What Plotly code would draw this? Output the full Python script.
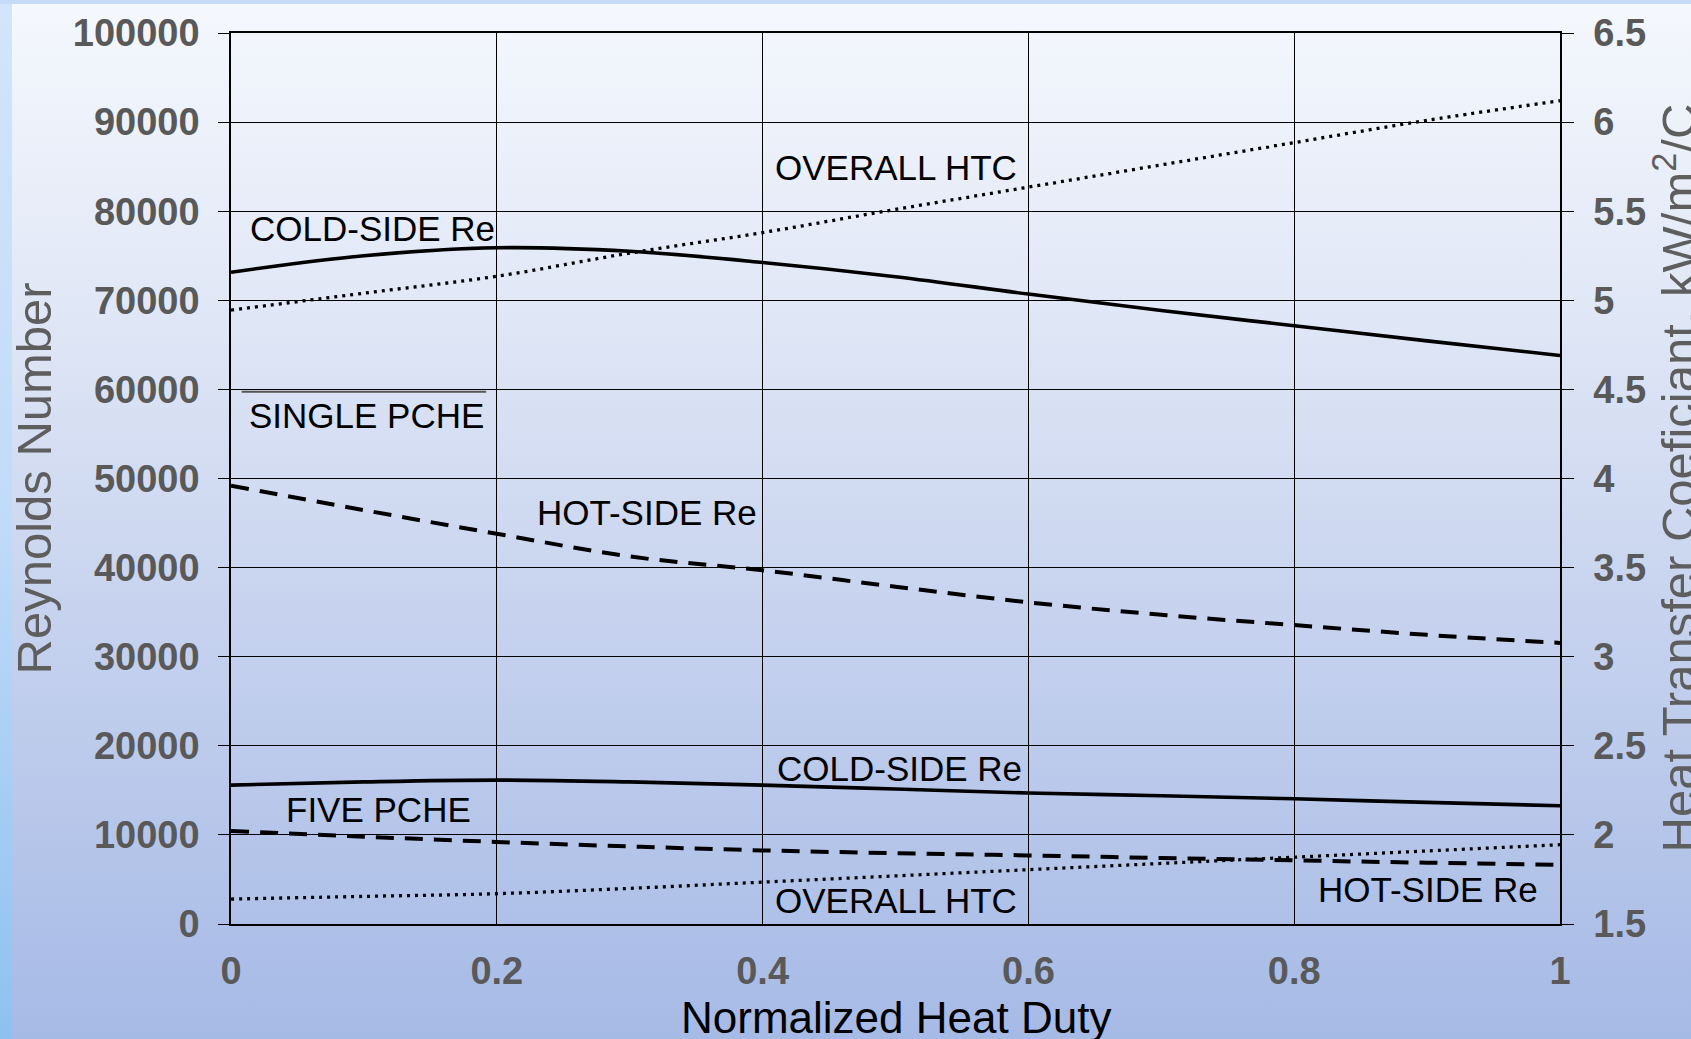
import base64
import plotly.graph_objects as go

# ---------------- data ----------------
heat_duty = [0.0, 0.1, 0.2, 0.3, 0.4, 0.5, 0.6, 0.7, 0.8, 0.9, 1.0]

single_cold_re = [73150, 75000, 75900, 75500, 74250, 72650, 70700, 68850, 67150, 65450, 63800]
single_hot_re = [49200, 46450, 43800, 41250, 39700, 37850, 36100, 34700, 33550, 32450, 31550]
single_htc = [4.945, 5.04, 5.135, 5.265, 5.38, 5.51, 5.635, 5.76, 5.885, 6.01, 6.12]

five_cold_re = [15590, 15950, 16150, 15950, 15590, 15150, 14700, 14400, 14050, 13650, 13270]
five_hot_re = [10450, 9800, 9210, 8700, 8260, 7950, 7700, 7400, 7140, 6880, 6650]
five_htc = [1.64, 1.655, 1.67, 1.70, 1.735, 1.77, 1.805, 1.84, 1.875, 1.91, 1.945]

x_ticks = [0, 0.2, 0.4, 0.6, 0.8, 1]
re_ticks = [0, 10000, 20000, 30000, 40000, 50000, 60000, 70000, 80000, 90000, 100000]
htc_ticks = [1.5, 2, 2.5, 3, 3.5, 4, 4.5, 5, 5.5, 6, 6.5]

# label texts and their anchor positions (x, Re)
labels = ["COLD-SIDE Re", "SINGLE PCHE", "HOT-SIDE Re", "OVERALL HTC",
          "COLD-SIDE Re", "FIVE PCHE", "OVERALL HTC", "HOT-SIDE Re"]
label_x = [0.013, 0.012, 0.229, 0.408, 0.409, 0.040, 0.408, 0.985]
label_y = [78050, 57050, 46150, 84900, 17450, 12850, 2650, 3850]
label_anchor = ["left", "left", "left", "left", "left", "left", "left", "right"]

x_title = "Normalized Heat Duty"
y_title = "Reynolds Number"
y2_title = "Heat Transfer Coeficiant, kW/m<sup>2</sup>/C"

# ---------------- figure ----------------
W, H = 1691, 1039
ML, MR, MT, MB = 231, 131, 33, 115
PW, PH = W - ML - MR, H - MT - MB

FONT = "Arial, Liberation Sans, sans-serif"
TICK_FONT = dict(family=FONT, size=38, color="#595959", weight="bold")
TITLE_GREY = "#5e5e5e"

fig = go.Figure()

line_solid = dict(color="black", width=3.6, shape="spline")
line_dash = dict(color="black", width=4, dash="18px,11px", shape="spline")
line_dot = dict(color="black", width=3.3, dash="3px,5px", shape="spline")

fig.add_trace(go.Scatter(x=heat_duty, y=single_cold_re, mode="lines", line=line_solid,
                         name="Single cold-side Re"))
fig.add_trace(go.Scatter(x=heat_duty, y=single_hot_re, mode="lines", line=line_dash,
                         name="Single hot-side Re"))
fig.add_trace(go.Scatter(x=heat_duty, y=five_cold_re, mode="lines", line=line_solid,
                         name="Five cold-side Re"))
fig.add_trace(go.Scatter(x=heat_duty, y=five_hot_re, mode="lines", line=line_dash,
                         name="Five hot-side Re"))
fig.add_trace(go.Scatter(x=heat_duty, y=single_htc, mode="lines", line=line_dot,
                         yaxis="y2", name="Single overall HTC"))
fig.add_trace(go.Scatter(x=heat_duty, y=five_htc, mode="lines", line=line_dot,
                         yaxis="y2", name="Five overall HTC"))

for t, xv, yv, an in zip(labels, label_x, label_y, label_anchor):
    fig.add_annotation(x=xv, y=yv, xref="x", yref="y", text=t, showarrow=False,
                       xanchor=an, yanchor="middle",
                       font=dict(family=FONT, size=35, color="black"))

# x-axis title (placed low, as in the original, partly cut by the page edge)
fig.add_annotation(x=0.5, y=1 - (1017 - MT) / PH, xref="paper", yref="paper",
                   text=x_title, showarrow=False, xanchor="center", yanchor="middle",
                   font=dict(family=FONT, size=44, color="black"))
# left axis title
fig.add_annotation(x=(33 - ML) / PW, y=0.5, xref="paper", yref="paper",
                   text=y_title, showarrow=False, textangle=-90,
                   xanchor="center", yanchor="middle",
                   font=dict(family=FONT, size=49, color=TITLE_GREY))
# right axis title (partly cut by the page edge, as in the original)
fig.add_annotation(x=(1675 - ML) / PW, y=0.5, xref="paper", yref="paper",
                   text=y2_title, showarrow=False, textangle=-90,
                   xanchor="center", yanchor="middle",
                   font=dict(family=FONT, size=49, color=TITLE_GREY))

# small grey rule under the 60000 line (remnant of a label box)
fig.add_shape(type="line", xref="x", yref="y", x0=0.008, x1=0.192, y0=59750, y1=59750,
              line=dict(color="#555555", width=2))

# gradient background as an svg image covering the whole page
svg = f"""<svg xmlns='http://www.w3.org/2000/svg' width='{W}' height='{H}' viewBox='0 0 {W} {H}' preserveAspectRatio='none'>
<defs>
<linearGradient id='g' x1='0' y1='0' x2='0' y2='1'>
<stop offset='0' stop-color='#f5f8fd'/>
<stop offset='0.3' stop-color='#e0e7f6'/>
<stop offset='0.6' stop-color='#c6d2ee'/>
<stop offset='1' stop-color='#a6bae6'/>
</linearGradient>
<linearGradient id='s' x1='0' y1='0' x2='0' y2='1'>
<stop offset='0' stop-color='#d2e5fb'/>
<stop offset='0.5' stop-color='#c0dbf8'/>
<stop offset='1' stop-color='#8ec1f0'/>
</linearGradient>
</defs>
<rect x='0' y='0' width='{W}' height='{H}' fill='url(#g)'/>
<rect x='0' y='0' width='12' height='{H}' fill='url(#s)'/>
<rect x='0' y='0' width='{W}' height='4' fill='#c4dcf8'/>
</svg>"""
src = "data:image/svg+xml;base64," + base64.b64encode(svg.encode()).decode()
fig.add_layout_image(source=src, xref="paper", yref="paper",
                     x=-ML / PW, y=1 + MT / PH, sizex=W / PW, sizey=H / PH,
                     xanchor="left", yanchor="top", sizing="stretch", layer="below")

fig.update_layout(
    width=W, height=H,
    margin=dict(l=ML, r=MR, t=MT, b=MB, pad=0, autoexpand=False),
    paper_bgcolor="#cdd8f0",
    plot_bgcolor="rgba(0,0,0,0)",
    showlegend=False,
    xaxis=dict(
        automargin=False,
        range=[0, 1], tickvals=x_ticks, ticktext=[f"{v:g}" for v in x_ticks],
        showgrid=True, gridcolor="black", gridwidth=1.2,
        showline=True, linecolor="black", linewidth=1.5, mirror=True,
        ticks="", tickfont=TICK_FONT, ticklabelstandoff=13,
        zeroline=False,
    ),
    yaxis=dict(
        automargin=False,
        range=[0, 100000], tickvals=re_ticks, ticktext=[str(v) for v in re_ticks],
        showgrid=True, gridcolor="black", gridwidth=1.2,
        showline=True, linecolor="black", linewidth=1.5,
        ticks="outside", ticklen=11, tickcolor="black", tickwidth=1.2,
        tickfont=TICK_FONT, ticklabelstandoff=11, zeroline=False,
    ),
    yaxis2=dict(
        automargin=False,
        range=[1.5, 6.5], tickvals=htc_ticks, ticktext=[f"{v:g}" for v in htc_ticks],
        overlaying="y", side="right", showgrid=False,
        showline=True, linecolor="black", linewidth=1.5,
        ticks="outside", ticklen=12, tickcolor="black", tickwidth=1.2,
        tickfont=TICK_FONT, ticklabelstandoff=12, zeroline=False,
    ),
)

fig.write_html("out.html")
